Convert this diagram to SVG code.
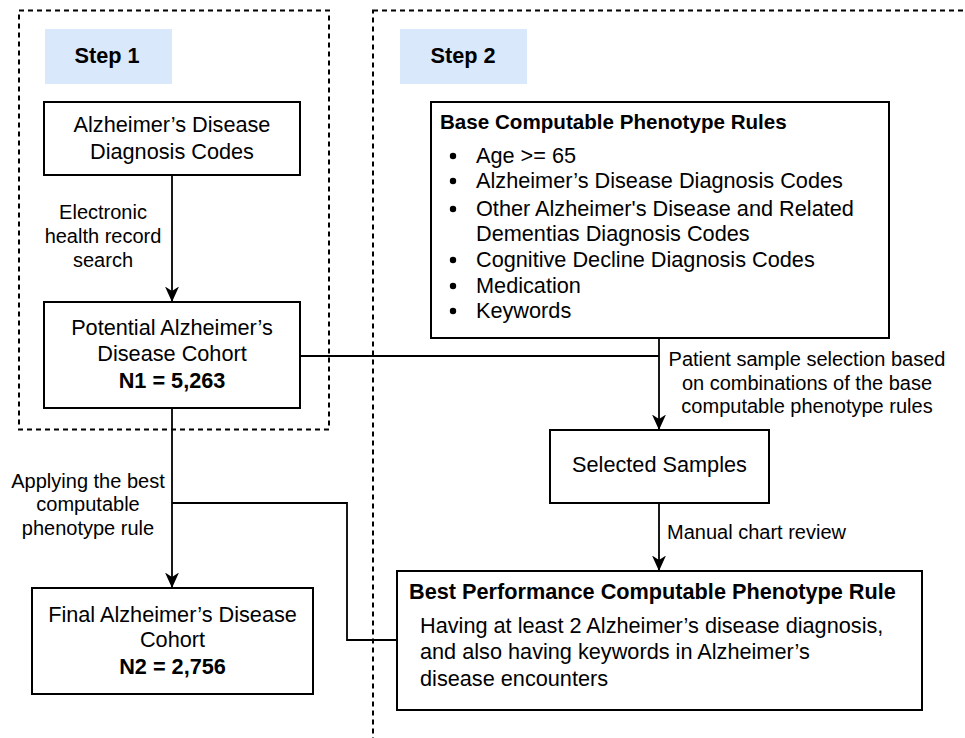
<svg xmlns="http://www.w3.org/2000/svg" width="965" height="738" viewBox="0 0 965 738">
  <defs>
    <marker id="arrow" viewBox="0 0 16 15" refX="15.5" refY="7.5" markerWidth="16" markerHeight="15" markerUnits="userSpaceOnUse" orient="auto">
      <path d="M0,0.5 L15.5,7.5 L0,14.5 L4.5,7.5 Z" fill="#000"/>
    </marker>
    <style>
      text { font-family: "Liberation Sans", Arial, Helvetica, sans-serif; fill: #000; }
      .box { fill: #fff; stroke: #000; stroke-width: 2; }
      .step { fill: #dae8fc; stroke: none; }
      .frame { fill: none; stroke: #000; stroke-width: 2; stroke-dasharray: 5 4; }
      .t { font-size: 21.7px; }
      .c { text-anchor: middle; }
      .b { font-weight: bold; }
      .lbl { font-size: 20px; }
      .conn { fill: none; stroke: #000; stroke-width: 1.8; }
      .dot { fill: #000; }
    </style>
  </defs>

  <!-- stage frames -->
  <g id="frame-step1">
    <rect class="frame" x="19" y="10.5" width="310" height="419"/>
    <rect class="step" x="45" y="29" width="127" height="55"/>
    <text class="t b c" x="107" y="63">Step 1</text>
  </g>
  <g id="frame-step2">
    <rect class="frame" x="373" y="10.5" width="700" height="800"/>
    <rect class="step" x="400" y="29" width="127" height="55"/>
    <text class="t b c" x="463" y="63">Step 2</text>
  </g>

  <!-- connectors -->
  <g id="connectors">
    <path class="conn" d="M172,175 V302" marker-end="url(#arrow)"/>
    <path class="conn" d="M172,408 V588" marker-end="url(#arrow)"/>
    <path class="conn" d="M172,503 H347 V640 H397"/>
    <path class="conn" d="M300,356 H659"/>
    <path class="conn" d="M659,338 V430" marker-end="url(#arrow)"/>
    <path class="conn" d="M659,503 V571" marker-end="url(#arrow)"/>

    <text class="lbl c" x="103" y="219">Electronic</text>
    <text class="lbl c" x="103" y="243">health record</text>
    <text class="lbl c" x="103" y="267">search</text>

    <text class="lbl c" x="88" y="488">Applying the best</text>
    <text class="lbl c" x="88" y="511">computable</text>
    <text class="lbl c" x="88" y="535">phenotype rule</text>

    <text class="lbl c" x="807" y="366">Patient sample selection based</text>
    <text class="lbl c" x="807" y="390">on combinations of the base</text>
    <text class="lbl c" x="807" y="413">computable phenotype rules</text>

    <text class="lbl" x="667" y="539">Manual chart review</text>
  </g>

  <!-- nodes -->
  <g id="node-ad-codes">
    <rect class="box" x="44" y="102" width="256" height="73"/>
    <text class="t c" x="172" y="132">Alzheimer’s Disease</text>
    <text class="t c" x="172" y="159">Diagnosis Codes</text>
  </g>

  <g id="node-potential-cohort">
    <rect class="box" x="44" y="302" width="256" height="106"/>
    <text class="t c" x="172" y="335">Potential Alzheimer’s</text>
    <text class="t c" x="172" y="361">Disease Cohort</text>
    <text class="t b c" x="172" y="388">N1 = 5,263</text>
  </g>

  <g id="node-final-cohort">
    <rect class="box" x="32" y="588" width="281" height="106"/>
    <text class="t c" x="172.5" y="622">Final Alzheimer’s Disease</text>
    <text class="t c" x="172.5" y="647">Cohort</text>
    <text class="t b c" x="172.5" y="674">N2 = 2,756</text>
  </g>

  <g id="node-base-rules">
    <rect class="box" x="431" y="102" width="458" height="236"/>
    <text class="b" x="440" y="129" style="font-size:20.6px">Base Computable Phenotype Rules</text>
    <circle class="dot" cx="453" cy="156" r="3.2"/>
    <text class="t" x="476" y="163">Age &gt;= 65</text>
    <circle class="dot" cx="453" cy="181" r="3.2"/>
    <text class="t" x="476" y="188">Alzheimer’s Disease Diagnosis Codes</text>
    <circle class="dot" cx="453" cy="209" r="3.2"/>
    <text class="t" x="476" y="216">Other Alzheimer's Disease and Related</text>
    <text class="t" x="476" y="241">Dementias Diagnosis Codes</text>
    <circle class="dot" cx="453" cy="260" r="3.2"/>
    <text class="t" x="476" y="267">Cognitive Decline Diagnosis Codes</text>
    <circle class="dot" cx="453" cy="286" r="3.2"/>
    <text class="t" x="476" y="293">Medication</text>
    <circle class="dot" cx="453" cy="311" r="3.2"/>
    <text class="t" x="476" y="318">Keywords</text>
  </g>

  <g id="node-selected-samples">
    <rect class="box" x="550" y="430" width="219" height="73"/>
    <text class="t c" x="659.5" y="472">Selected Samples</text>
  </g>

  <g id="node-best-rule">
    <rect class="box" x="397" y="571" width="525" height="139"/>
    <text class="t b" x="409" y="599">Best Performance Computable Phenotype Rule</text>
    <text class="t" x="420" y="633">Having at least 2 Alzheimer’s disease diagnosis,</text>
    <text class="t" x="420" y="659">and also having keywords in Alzheimer’s</text>
    <text class="t" x="420" y="686">disease encounters</text>
  </g>
</svg>
